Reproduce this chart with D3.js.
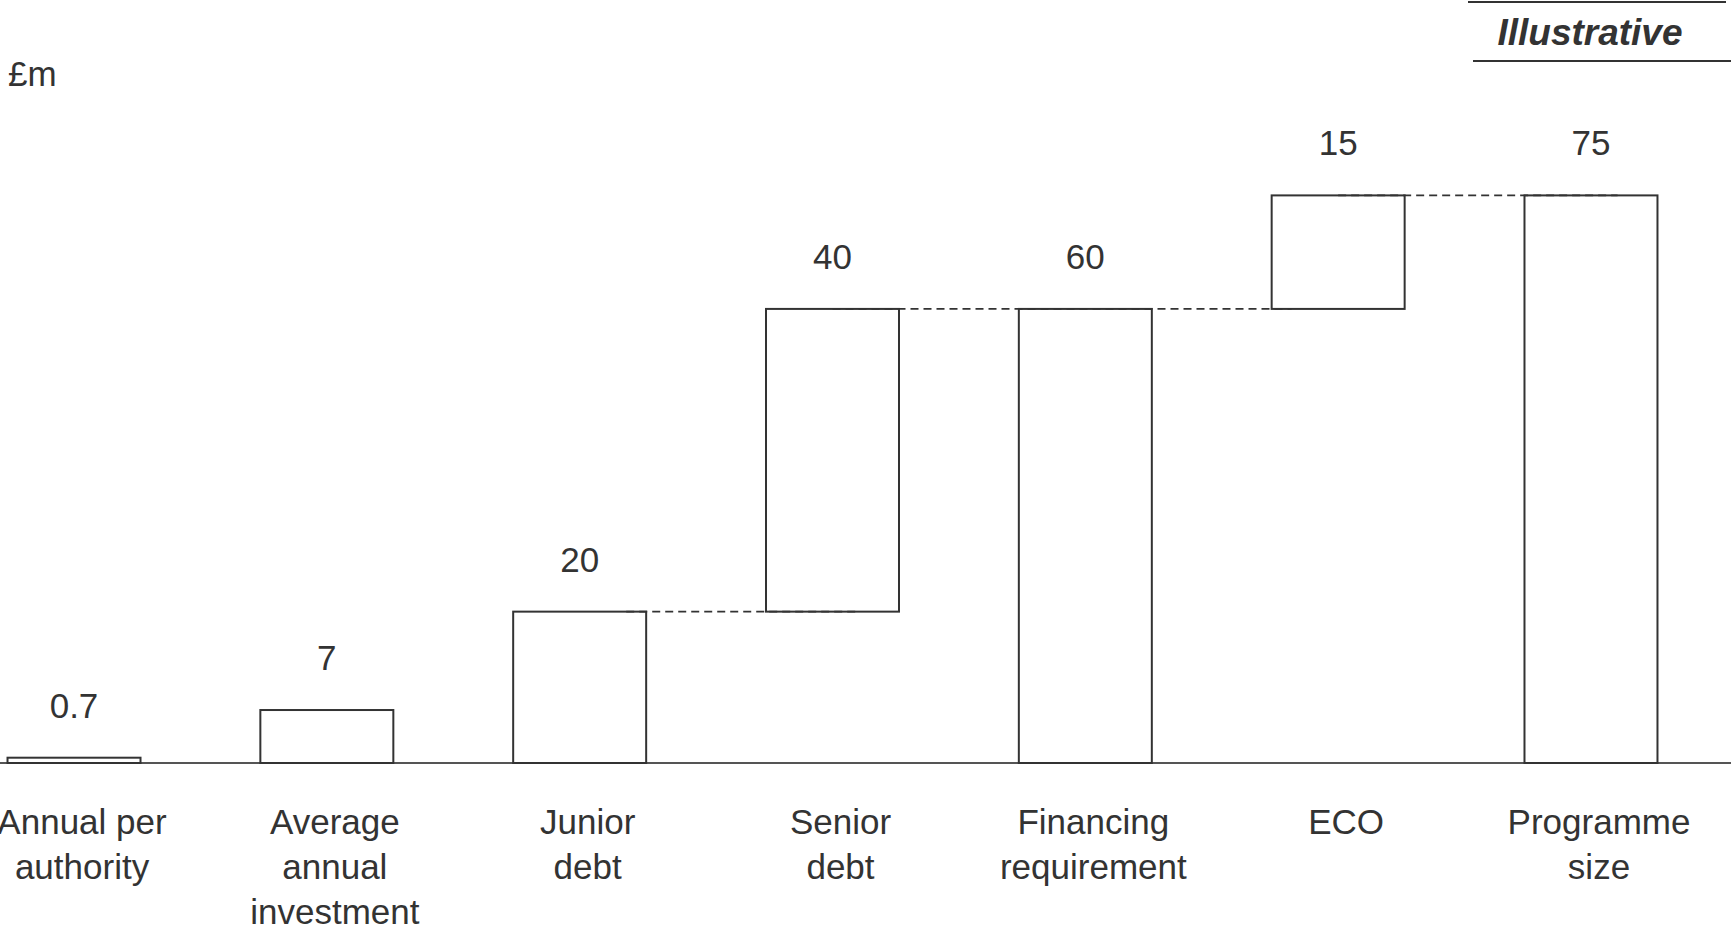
<!DOCTYPE html>
<head>
  <meta charset="utf-8">
  <script src="https://d3js.org/d3.v7.min.js"></script>
  <style>
    body { margin:0; background:#fff; }
    svg { display:block; }
    text { font-family: "Liberation Sans", Arial, sans-serif; fill:#333; }
  </style>
</head>
<body>
<div id="chart"></div>
<script>

  // bars of the waterfall, left to right
  var categories = ["Annual per authority", "Average annual investment", "Junior debt",
                    "Senior debt", "Financing requirement", "ECO", "Programme size"];
  var labelLines = [["Annual per", "authority"], ["Average", "annual", "investment"], ["Junior", "debt"],
                    ["Senior", "debt"], ["Financing", "requirement"], ["ECO"], ["Programme", "size"]];
  var values = [0.7, 7, 20, 40, 60, 15, 75];
  var bases  = [0,   0, 0,  20, 0,  60, 0];
  var valueLabels = ["0.7", "7", "20", "40", "60", "15", "75"];

  // dashed connectors: [from bar, to bar, level]
  var connectors = [[2, 3, 20], [3, 5, 60], [5, 6, 75]];

  var width = 1731, height = 928;
  var baseY = 763;

  var svg = d3.select("#chart").append("svg")
      .attr("width", width)
      .attr("height", height);

  var x = d3.scaleBand()
      .domain(categories)
      .range([-52.4, 1717.4])
      .paddingInner(0.474)
      .paddingOuter(0.237);

  var y = d3.scaleLinear()
      .domain([0, 75])
      .range([baseY, 195.4]);

  // baseline
  svg.append("line")
      .attr("x1", 0).attr("x2", width)
      .attr("y1", baseY).attr("y2", baseY)
      .style("stroke", "#555")
      .style("stroke-width", 2);

  // connectors
  svg.append("g").selectAll("line")
      .data(connectors)
    .enter().append("line")
      .attr("x1", function(d) { return x(categories[d[0]]) + x.bandwidth() * (d[0] == 2 ? 0.85 : 0.5); })
      .attr("x2", function(d) { return x(categories[d[1]]) + (d[1] - d[0] > 1 ? 20 : x.bandwidth() * 0.7); })
      .attr("y1", function(d) { return y(d[2]); })
      .attr("y2", function(d) { return y(d[2]); })
      .style("stroke", "#333")
      .style("stroke-width", 1.8)
      .style("stroke-dasharray", "8,5");

  // bars
  svg.append("g").selectAll("rect")
      .data(values)
    .enter().append("rect")
      .attr("x", function(d, i) { return x(categories[i]); })
      .attr("width", x.bandwidth())
      .attr("y", function(d, i) { return y(bases[i] + d); })
      .attr("height", function(d, i) { return y(bases[i]) - y(bases[i] + d); })
      .style("fill", "none")
      .style("stroke", "#333")
      .style("stroke-width", 2);

  // value labels
  svg.append("g").selectAll("text")
      .data(valueLabels)
    .enter().append("text")
      .attr("x", function(d, i) { return x(categories[i]) + x.bandwidth() / 2; })
      .attr("y", function(d, i) { return y(bases[i] + values[i]) - 40; })
      .attr("text-anchor", "middle")
      .style("font-size", "35px")
      .text(function(d) { return d; });

  // category labels
  var cat = svg.append("g").selectAll("text")
      .data(labelLines)
    .enter().append("text")
      .attr("text-anchor", "middle")
      .style("font-size", "35px")
      .attr("transform", function(d, i) { return "translate(" + (x(categories[i]) + x.bandwidth() / 2 + 8) + ",834)"; });
  cat.selectAll("tspan")
      .data(function(d) { return d; })
    .enter().append("tspan")
      .attr("x", 0)
      .attr("y", function(d, j) { return j * 45; })
      .text(function(d) { return d; });

  // unit
  svg.append("text")
      .attr("x", 8).attr("y", 86)
      .style("font-size", "35px")
      .text("£m");

  // illustrative tag
  svg.append("line")
      .attr("x1", 1468).attr("x2", 1726).attr("y1", 2).attr("y2", 2)
      .style("stroke", "#333").style("stroke-width", 2);
  svg.append("line")
      .attr("x1", 1473).attr("x2", width).attr("y1", 61).attr("y2", 61)
      .style("stroke", "#333").style("stroke-width", 2);
  svg.append("text")
      .attr("x", 1590).attr("y", 45)
      .attr("text-anchor", "middle")
      .style("font-size", "37px")
      .style("font-weight", "bold")
      .style("font-style", "italic")
      .text("Illustrative");

</script>
</body>
